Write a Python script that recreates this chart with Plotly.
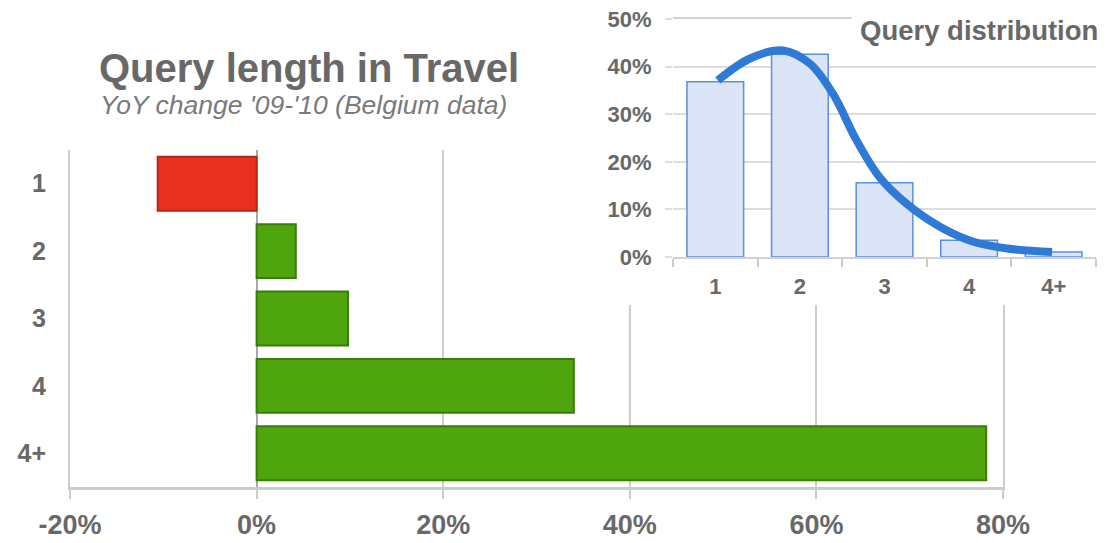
import plotly.graph_objects as go

# ---------------- data ----------------
categories = ["1", "2", "3", "4", "4+"]
yoy_change = [-10.6, 4.2, 9.8, 34.0, 78.2]          # % YoY change '09-'10
x_ticks = [-20, 0, 20, 40, 60, 80]

dist_share = [36.8, 42.6, 15.6, 3.5, 1.05]          # % query distribution
curve_x = [1.03, 1.41, 1.80, 2.12, 2.39, 2.67, 2.94, 3.26, 3.66, 4.05, 4.45, 4.98]
curve_y = [37.1, 41.7, 43.4, 40.6, 34.3, 24.5, 16.8, 11.2, 6.3, 3.2, 1.8, 1.05]
dist_ticks = [0, 10, 20, 30, 40, 50]

OFF = 8                      # page body margin
W, H = 1115 - OFF, 543 - OFF
FONT = "Liberation Sans, Arial, sans-serif"
GRAY = "#686868"

def px_x(a, b):
    return [(a - OFF) / W, min(1, (b - OFF) / W)]

def px_y(top, bottom):
    return [max(0, 1 - (bottom - OFF) / H), min(1, 1 - (top - OFF) / H)]

def ax_x(p):
    return (p - OFF) / W

def ax_y(p):
    return 1 - (p - OFF) / H

fig = go.Figure()

# main horizontal bars
bar_fill = ["#e8321f" if v < 0 else "#4ea50e" for v in yoy_change]
bar_line = ["#b52617" if v < 0 else "#3a7c0a" for v in yoy_change]
fig.add_trace(go.Bar(
    x=yoy_change, y=categories, orientation="h",
    marker=dict(color=bar_fill, line=dict(color=bar_line, width=2)),
    xaxis="x", yaxis="y", hoverinfo="skip", showlegend=False,
))

# white cover subplot (hides main gridlines behind the inset)
fig.add_trace(go.Scatter(x=[None], y=[None], xaxis="x2", yaxis="y2",
                         hoverinfo="skip", showlegend=False))

# inset distribution bars
inset_pos = list(range(1, len(categories) + 1))
fig.add_trace(go.Bar(
    x=inset_pos, y=dist_share, width=0.67,
    marker=dict(color="#dbe5f7", line=dict(color="#5b8fe0", width=1.5)),
    xaxis="x3", yaxis="y3", hoverinfo="skip", showlegend=False,
))
fig.add_trace(go.Scatter(
    x=curve_x, y=curve_y, mode="lines",
    line=dict(color="#2f7ad6", width=8, shape="spline", smoothing=1.0),
    xaxis="x3", yaxis="y3", hoverinfo="skip", showlegend=False,
))

boundaries = [p - 0.5 for p in inset_pos] + [inset_pos[-1] + 0.5]

fig.update_layout(
    width=W, height=H,
    margin=dict(l=0, r=0, t=0, b=0),
    paper_bgcolor="white", plot_bgcolor="white",
    font=dict(family=FONT, color=GRAY),
    bargap=0.2,
    xaxis=dict(
        domain=px_x(70, 1003), range=[x_ticks[0], x_ticks[-1]],
        tickmode="array", tickvals=x_ticks, ticktext=[f"{v}%" for v in x_ticks],
        showgrid=True, gridcolor="#cccccc", gridwidth=2,
        zeroline=True, zerolinecolor="#a8a8a8", zerolinewidth=1.5,
        showline=True, linecolor="#cccccc", linewidth=3,
        ticks="outside", ticklen=9, tickwidth=2, tickcolor="#cccccc",
        tickfont=dict(family=FONT, size=27, color=GRAY, weight="bold"),
        ticklabelstandoff=3, ticklabeloverflow="allow",
        anchor="y", automargin=False, fixedrange=True,
    ),
    yaxis=dict(
        domain=px_y(150, 487), type="category",
        categoryorder="array", categoryarray=categories,
        autorange="reversed", showgrid=False, zeroline=False,
        showline=True, linecolor="#cccccc", linewidth=2, mirror=True,
        ticks="",
        tickfont=dict(family=FONT, size=25, color=GRAY, weight="bold"),
        ticklabelstandoff=17,
        anchor="x", automargin=False, fixedrange=True,
    ),
    xaxis2=dict(domain=px_x(590, 1115), visible=False, anchor="y2",
                range=[0, 1], fixedrange=True),
    yaxis2=dict(domain=px_y(0, 305), visible=False, anchor="x2",
                range=[0, 1], fixedrange=True),
    xaxis3=dict(
        domain=px_x(673, 1096), range=[boundaries[0], boundaries[-1]],
        tickmode="array", tickvals=inset_pos, ticktext=categories,
        showgrid=False, zeroline=False,
        showline=True, linecolor="#d2d2d2", linewidth=2, mirror=True,
        ticks="",
        minor=dict(tickmode="array", tickvals=boundaries, ticks="outside",
                   ticklen=8, tickwidth=2, tickcolor="#cccccc", showgrid=False),
        tickfont=dict(family=FONT, size=22, color=GRAY, weight="bold"),
        ticklabelstandoff=9,
        anchor="y3", automargin=False, fixedrange=True,
    ),
    yaxis3=dict(
        domain=px_y(19, 257), range=[dist_ticks[0], dist_ticks[-1]],
        tickmode="array", tickvals=dist_ticks, ticktext=[f"{v}%" for v in dist_ticks],
        showgrid=True, gridcolor="#dddddd", gridwidth=2,
        zeroline=False, showline=False,
        ticks="outside", ticklen=7, tickwidth=2, tickcolor="#dddddd",
        tickfont=dict(family=FONT, size=22, color=GRAY, weight="bold"),
        ticklabelstandoff=9, ticklabeloverflow="allow",
        anchor="x3", automargin=False, fixedrange=True,
    ),
    annotations=[
        dict(text="<b>Query length in Travel</b>", xref="paper", yref="paper",
             x=ax_x(309), y=ax_y(68), xanchor="center", yanchor="middle",
             showarrow=False, font=dict(family=FONT, size=40, color=GRAY)),
        dict(text="<i>YoY change '09-'10 (Belgium data)</i>", xref="paper", yref="paper",
             x=ax_x(303), y=ax_y(105), xanchor="center", yanchor="middle",
             showarrow=False, font=dict(family=FONT, size=26.5, color="#7a7a7a")),
        dict(text="<b>Query distribution</b>", xref="paper", yref="paper",
             x=ax_x(1107), y=ax_y(30), xanchor="right", yanchor="middle",
             showarrow=False, bgcolor="white", borderpad=8,
             font=dict(family=FONT, size=27.5, color=GRAY)),
    ],
)

fig.write_html("out.html")
